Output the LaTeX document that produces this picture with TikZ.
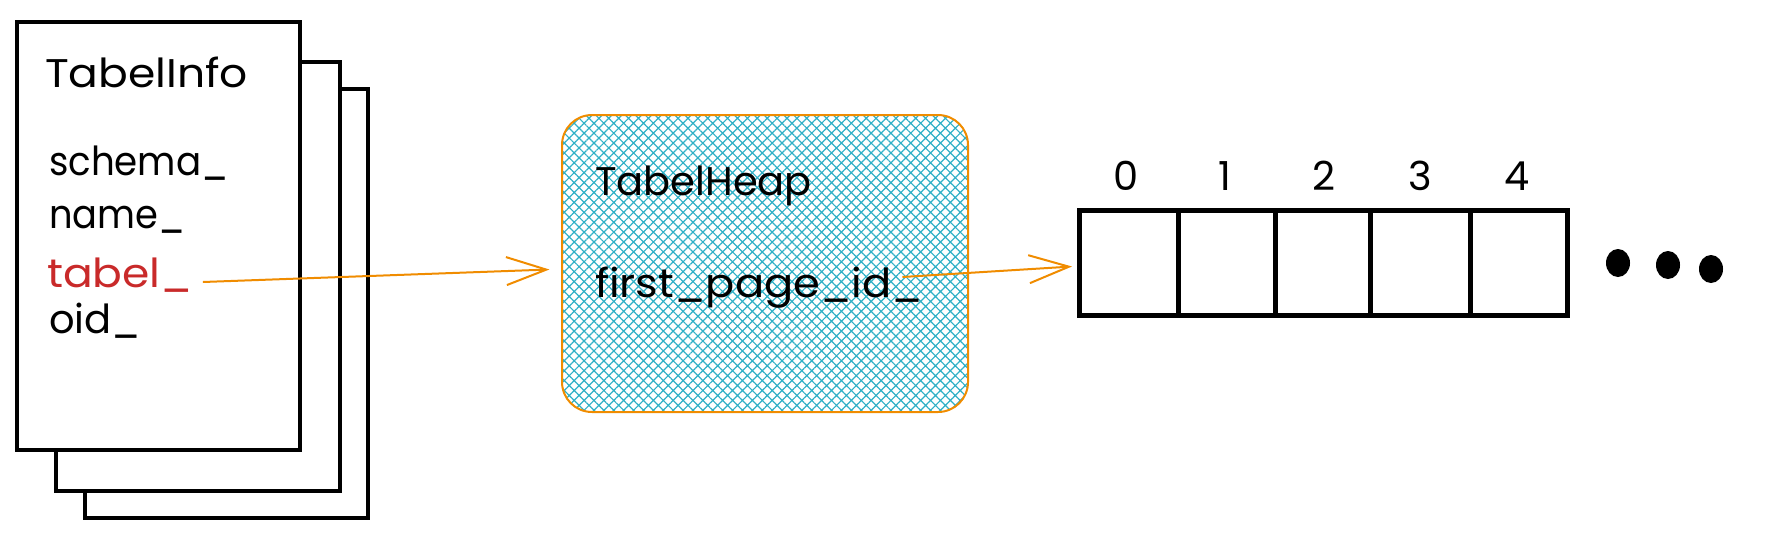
\documentclass[tikz,border=0pt]{standalone}
\usepackage{fontspec}
\setmainfont{Poppins}
\usetikzlibrary{arrows.meta,patterns.meta,shapes.geometric}
\definecolor{inkred}{HTML}{C92A2A}
\definecolor{arrowor}{HTML}{F08C00}
\definecolor{hatchc}{HTML}{30B0C6}
\tikzset{
  page/.style={draw=black,line width=4pt,fill=white},
  txt/.style={anchor=base west,inner sep=0pt,outer sep=0pt,font=\fontsize{40}{46}\selectfont},
  digit/.style={anchor=base,inner sep=0pt,font=\fontsize{40}{46}\selectfont},
  cell/.style={draw=black,line width=5pt,minimum height=105pt,inner sep=0pt,outer sep=0pt},
  orarrow/.style={draw=arrowor,line width=2pt,-{Straight Barb[length=40pt,width=28pt,line width=2pt]}},
  dot/.style={ellipse,fill=black,minimum width=24pt,minimum height=28pt,inner sep=0pt},
}
\begin{document}
\begin{tikzpicture}[x=1pt,y=-1pt]
\useasboundingbox (0,0) rectangle (1766,539);
% stacked pages
\draw[page] (85,89) rectangle (368,518);
\draw[page] (56,62) rectangle (340,491);
\draw[page] (17,22) rectangle (300,450);
\node[txt] (title) at (45,87) {\scalebox{1.1}[1]{TabelInfo}};
\node[txt] (schema) at (49,175) {\scalebox{0.93}[1]{schema\_}};
\node[txt] (name) at (49,228) {\scalebox{0.92}[1]{name\_}};
\node[txt,text=inkred] (tabel) at (47,287) {\scalebox{1.1}[1]{tabel\_}};
\node[txt] (oid) at (49,333) {oid\_};
% heap box
\node[draw=arrowor,line width=2pt,rounded corners=30pt,minimum width=406pt,minimum height=297pt,
  pattern={Hatch[angle=45,distance=7pt,line width=1.2pt]},pattern color=hatchc] (heap) at (765,263.5) {};
\node[txt] (heaptitle) at (595,195) {TabelHeap};
\node[txt] (fp) at (595,297) {\scalebox{1.08}[1]{first\_page\_id\_}};
% array
\node[cell,minimum width=99pt] (c0) at (1128.5,262.5) {};
\node[cell,minimum width=97pt] (c1) at (1226.5,262.5) {};
\node[cell,minimum width=95pt] (c2) at (1322.5,262.5) {};
\node[cell,minimum width=100pt] (c3) at (1420,262.5) {};
\node[cell,minimum width=97pt] (c4) at (1518.5,262.5) {};
\node[digit] (d0) at (1126,190) {0};
\node[digit] (d1) at (1225,190) {1};
\node[digit] (d2) at (1324,190) {2};
\node[digit] (d3) at (1420,190) {3};
\node[digit] (d4) at (1517,190) {4};
\node[dot] (dot1) at (1618,263) {};
\node[dot] (dot2) at (1668,265) {};
\node[dot] (dot3) at (1711,269) {};
% arrows
\draw[orarrow] ([xshift=10pt,yshift=5pt]tabel.base east) -- ([xshift=-12pt,yshift=-6pt]heap.west);
\draw[orarrow] ([xshift=-21pt,yshift=20pt]fp.base east) -- ([xshift=-7pt,yshift=-4pt]c0.west);
\end{tikzpicture}
\end{document}
